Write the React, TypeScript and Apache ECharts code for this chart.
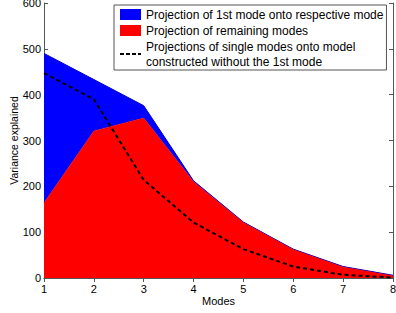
import React, { useEffect, useRef } from "react";
import * as echarts from "echarts";

const modes = ["1", "2", "3", "4", "5", "6", "7", "8"];
const remainingModes = [164, 321, 349, 210, 121, 62, 24, 5];
const firstModeExtra = [326, 112, 27, 2, 1, 1, 1, 1];
const withoutFirstMode = [447, 390, 214, 121, 63, 25, 7, 1];
const yTicks = [0, 100, 200, 300, 400, 500, 600];

const seriesNames = [
  "Projection of 1st mode onto respective mode",
  "Projection of remaining modes",
  "Projections of single modes onto model\nconstructed without the 1st mode",
];

const FONT = "'Liberation Sans', Arial, Helvetica, sans-serif";
const AXIS_COLOR = "#555";

export default function App() {
  const ref = useRef<HTMLDivElement>(null);
  useEffect(() => {
    if (!ref.current) return;
    const chart = echarts.init(ref.current, undefined, { renderer: "svg" });
    const common = {
      axisLine: { show: true, lineStyle: { color: AXIS_COLOR, width: 1 } },
      axisTick: { show: true, inside: true, length: 4, lineStyle: { color: AXIS_COLOR } },
      splitLine: { show: false },
    };
    chart.setOption({
      animation: false,
      textStyle: { fontFamily: FONT },
      grid: {
        left: 44,
        right: 3,
        top: 3,
        bottom: 35,
        containLabel: false,
        outerBoundsMode: "none",
      },
      legend: {
        orient: "vertical",
        left: 114,
        top: 5,
        padding: [2, 3, 1, 5],
        itemGap: 1,
        itemWidth: 21,
        itemHeight: 11,
        backgroundColor: "#fff",
        borderColor: AXIS_COLOR,
        borderWidth: 1,
        borderRadius: 0,
        textStyle: { fontFamily: FONT, fontSize: 12, color: "#000", lineHeight: 15 },
        data: [
          { name: seriesNames[0], icon: "rect" },
          { name: seriesNames[1], icon: "rect" },
          {
            name: seriesNames[2],
            itemStyle: { color: "transparent", borderWidth: 0, opacity: 0 },
            lineStyle: { color: "#000", width: 2, type: [4, 2] },
          },
        ],
      },
      xAxis: [
        {
          type: "category",
          data: modes,
          boundaryGap: false,
          name: "Modes",
          nameLocation: "middle",
          nameGap: 17,
          nameMoveOverlap: false,
          nameTextStyle: { fontFamily: FONT, fontSize: 11, color: "#000" },
          axisLabel: { fontFamily: FONT, fontSize: 11, color: "#000", margin: 5 },
          ...common,
        },
        {
          type: "category",
          data: modes,
          boundaryGap: false,
          position: "top",
          axisLabel: { show: false },
          ...common,
        },
      ],
      yAxis: [
        {
          type: "value",
          min: yTicks[0],
          max: yTicks[yTicks.length - 1],
          interval: 100,
          name: "Variance explained",
          nameLocation: "middle",
          nameGap: 25,
          nameMoveOverlap: false,
          nameTextStyle: { fontFamily: FONT, fontSize: 10.5, color: "#000" },
          axisLabel: { fontFamily: FONT, fontSize: 11, color: "#000", margin: 3 },
          ...common,
        },
        {
          type: "value",
          min: yTicks[0],
          max: yTicks[yTicks.length - 1],
          interval: 100,
          position: "right",
          axisLabel: { show: false },
          ...common,
        },
      ],
      series: [
        {
          name: seriesNames[1],
          type: "line",
          stack: "total",
          data: remainingModes,
          symbol: "none",
          itemStyle: { color: "#ff0000" },
          lineStyle: { color: "#dd0000", width: 0.5 },
          areaStyle: { color: "#ff0000", opacity: 1 },
          z: 2,
        },
        {
          name: seriesNames[0],
          type: "line",
          stack: "total",
          data: firstModeExtra,
          symbol: "none",
          itemStyle: { color: "#0000ff" },
          lineStyle: { color: "#0000cc", width: 1 },
          areaStyle: { color: "#0000ff", opacity: 1 },
          z: 1,
        },
        {
          name: seriesNames[2],
          type: "line",
          data: withoutFirstMode,
          symbol: "none",
          itemStyle: { color: "#000" },
          lineStyle: { color: "#000", width: 2, type: [4, 3] },
          z: 3,
        },
      ],
    });
    return () => chart.dispose();
  }, []);
  return (
    <div
      ref={ref}
      style={{ position: "fixed", left: 0, top: 0, width: 396, height: 313, background: "#fff" }}
    />
  );
}
